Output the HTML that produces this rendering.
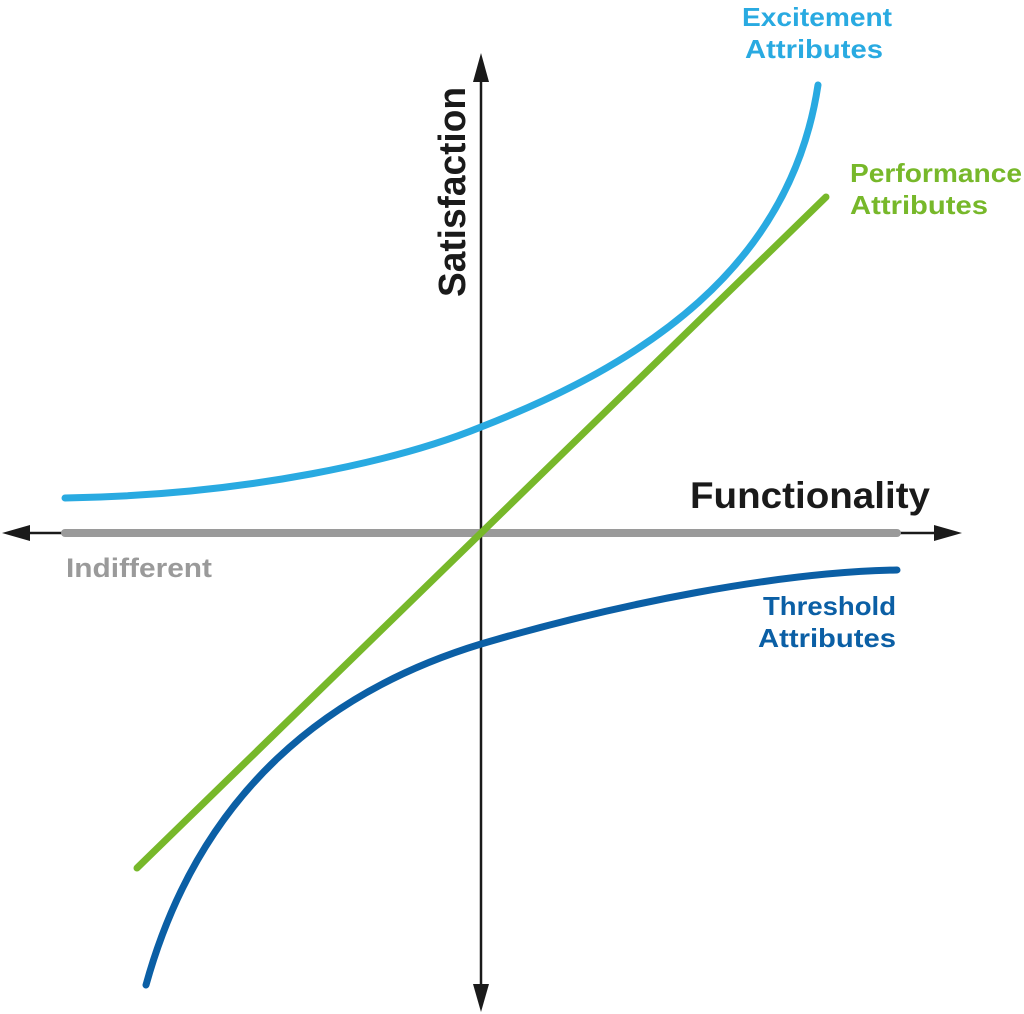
<!DOCTYPE html>
<html><head><style>body{margin:0;background:#fff}svg{display:block}text{font-family:"Liberation Sans",sans-serif;font-weight:bold}</style></head>
<body>
<svg width="1024" height="1014" viewBox="0 0 1024 1014" xmlns="http://www.w3.org/2000/svg">
<line x1="481" y1="75" x2="481" y2="990" stroke="#1a1a1a" stroke-width="2.5"/>
<polygon points="481,53 473,82 489,82" fill="#1a1a1a"/>
<polygon points="481,1012 473,984 489,984" fill="#1a1a1a"/>
<line x1="25" y1="533" x2="940" y2="533" stroke="#1a1a1a" stroke-width="2.5"/>
<polygon points="2,533 30,525 30,541" fill="#1a1a1a"/>
<polygon points="962,533 934,525 934,541" fill="#1a1a1a"/>
<line x1="65" y1="533" x2="897" y2="533" stroke="#9a9a9a" stroke-width="8" stroke-linecap="round"/>
<path d="M65,498 C250,495 400,460 481,427 C640,365 790,270 818,85" fill="none" stroke="#29aae1" stroke-width="7" stroke-linecap="round"/>
<line x1="137" y1="868" x2="826" y2="197" stroke="#77b82a" stroke-width="7" stroke-linecap="round"/>
<path d="M146,985 C200,790 330,690 481,644 C620,603 780,572 897,570" fill="none" stroke="#0b5fa5" stroke-width="7" stroke-linecap="round"/>
<text transform="translate(465,192) rotate(-90)" text-anchor="middle" font-size="38" fill="#1a1a1a" textLength="210" lengthAdjust="spacingAndGlyphs">Satisfaction</text>
<text x="690" y="508" font-size="37" fill="#1a1a1a" textLength="240" lengthAdjust="spacingAndGlyphs">Functionality</text>
<text x="66" y="577" font-size="27" fill="#9a9a9a" textLength="146" lengthAdjust="spacingAndGlyphs">Indifferent</text>
<text x="742" y="26" font-size="26" fill="#29aae1" textLength="150" lengthAdjust="spacingAndGlyphs">Excitement</text>
<text x="745" y="58" font-size="26" fill="#29aae1" textLength="138" lengthAdjust="spacingAndGlyphs">Attributes</text>
<text x="850" y="182" font-size="26" fill="#77b82a" textLength="172" lengthAdjust="spacingAndGlyphs">Performance</text>
<text x="850" y="214" font-size="26" fill="#77b82a" textLength="138" lengthAdjust="spacingAndGlyphs">Attributes</text>
<text x="763" y="615" font-size="26" fill="#0b5fa5" textLength="133" lengthAdjust="spacingAndGlyphs">Threshold</text>
<text x="758" y="647" font-size="26" fill="#0b5fa5" textLength="138" lengthAdjust="spacingAndGlyphs">Attributes</text>
</svg>
</body></html>
